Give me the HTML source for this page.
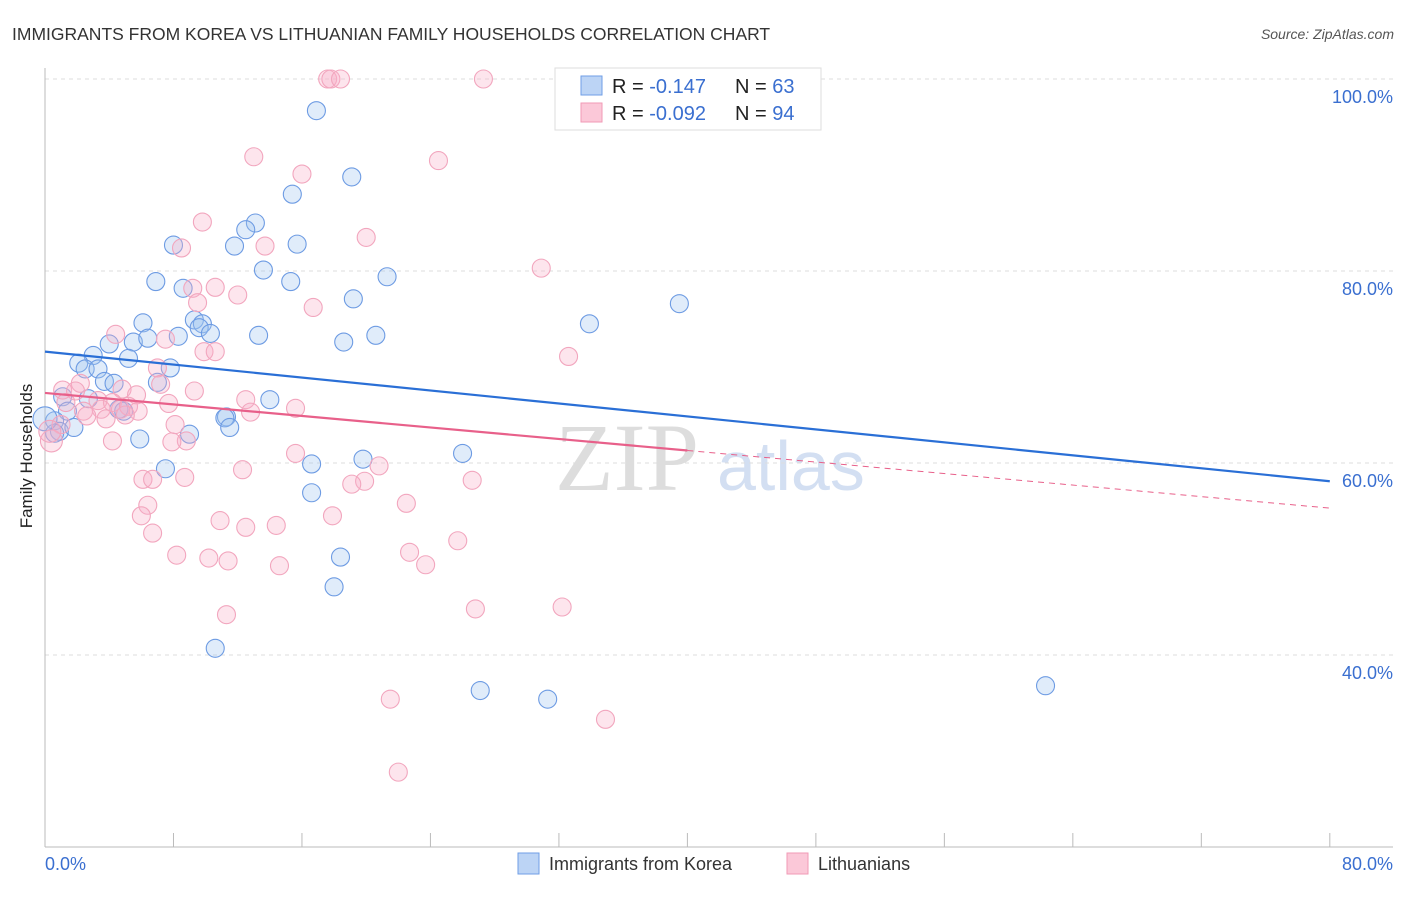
<!DOCTYPE html>
<html><head><meta charset="utf-8"><style>
body{margin:0;background:#fff;font-family:"Liberation Sans",sans-serif}
</style></head><body>
<svg width="1406" height="892" xmlns="http://www.w3.org/2000/svg" font-family="Liberation Sans, sans-serif">
<text x="12" y="40" font-size="17.5" fill="#333">IMMIGRANTS FROM KOREA VS LITHUANIAN FAMILY HOUSEHOLDS CORRELATION CHART</text>
<text x="1394" y="39" font-size="14" fill="#555" font-style="italic" text-anchor="end">Source: ZipAtlas.com</text>
<g><text x="555" y="490" font-size="96" font-family="Liberation Serif, serif" fill="#ddd">ZIP</text><text x="717" y="490" font-size="70" fill="#d3dff2">atlas</text></g>
<g id="grid"></g>
<g id="axes"></g>
<g id="pts"></g>
<g id="lines"></g>
<text x="32" y="456" font-size="17" fill="#222" transform="rotate(-90 32 456)" text-anchor="middle">Family Households</text>
<g>
<rect x="555" y="68" width="266" height="62" fill="#fff" stroke="#ddd"/>
<rect x="581" y="76" width="21" height="19" fill="#bcd4f5" stroke="#6f9ee6"/>
<rect x="581" y="103" width="21" height="19" fill="#fbc8d8" stroke="#f09ab6"/>
<text x="612" y="93" font-size="20" fill="#222">R = <tspan fill="#3a6fd0"> -0.147</tspan><tspan x="735">N = </tspan><tspan fill="#3a6fd0">63</tspan></text>
<text x="612" y="120" font-size="20" fill="#222">R = <tspan fill="#3a6fd0">-0.092</tspan><tspan x="735">N = </tspan><tspan fill="#3a6fd0">94</tspan></text>
</g>
<g>
<rect x="518" y="853" width="21" height="21" fill="#bcd4f5" stroke="#6f9ee6"/>
<text x="549" y="870" font-size="18" fill="#333">Immigrants from Korea</text>
<rect x="787" y="853" width="21" height="21" fill="#fbc8d8" stroke="#f09ab6"/>
<text x="818" y="870" font-size="18" fill="#333">Lithuanians</text>
</g>
</svg>
<script>
const blueX=[39.5,16.9,19.1,15.4,13.1,12.5,8.0,11.8,15.7,13.6,6.9,8.6,15.3,21.3,19.2,39.5,33.9,6.1,9.3,9.8,9.6,10.3,8.3,13.3,20.6,18.6,4.0,5.5,6.4,3.0,5.2,2.1,7.8,2.5,3.3,3.7,4.3,7.0,1.1,2.7,14.0,4.6,4.9,1.4,11.3,11.2,11.5,0.6,0.9,1.8,0.6,9.0,5.9,26.0,19.8,16.6,7.5,16.6,18.4,18.0,10.6,27.1,31.3,62.3,0.0];
const blueY=[100,96.7,89.8,88.0,85.0,84.3,82.7,82.6,82.8,80.1,78.9,78.2,78.9,79.4,77.1,76.6,74.5,74.6,74.9,74.5,74.1,73.5,73.2,73.3,73.3,72.6,72.4,72.6,73.0,71.2,70.9,70.4,69.9,69.8,69.8,68.5,68.3,68.4,66.9,66.7,66.6,65.6,65.4,65.4,64.8,64.7,63.7,64.4,63.3,63.7,63.1,63.0,62.5,61.0,60.4,59.9,59.4,56.9,50.2,47.1,40.7,36.3,35.4,36.8,64.6];
const pinkX=[17.6,17.8,18.4,27.3,13.0,24.5,16.0,9.8,20.0,13.7,8.5,30.9,9.2,10.6,12.0,9.5,16.7,4.4,7.5,9.9,10.6,32.6,7.0,2.2,7.2,1.1,1.9,4.8,9.3,5.7,12.5,1.3,3.3,4.2,7.7,2.4,3.5,4.7,5.2,5.8,15.6,2.6,5.0,12.8,3.8,8.1,1.0,8.8,7.9,4.2,0.4,0.3,15.6,20.8,12.3,6.1,6.7,8.7,19.9,19.1,26.6,6.4,22.5,6.0,17.9,10.9,12.5,14.4,6.7,25.7,8.2,22.7,10.2,11.4,14.6,23.7,26.8,32.2,11.3,21.5,34.9,22.0];
const pinkY=[100,100,100,100,91.9,91.5,90.1,85.1,83.5,82.6,82.4,80.3,78.2,78.3,77.5,76.7,76.2,73.4,72.9,71.6,71.6,71.1,69.9,68.3,68.2,67.6,67.5,67.7,67.5,67.1,66.6,66.3,66.5,66.3,66.2,65.4,65.6,65.6,65.9,65.4,65.7,64.9,65.0,65.3,64.6,64.0,64.0,62.3,62.2,62.3,62.3,63.3,61.0,59.7,59.3,58.3,58.3,58.5,58.1,57.8,58.2,55.6,55.8,54.5,54.5,54.0,53.3,53.5,52.7,51.9,50.4,50.7,50.1,49.8,49.3,49.4,44.8,45.0,44.2,35.4,33.3,27.8];
const yTicks=[40,60,80,100];
const yTickLabels=["40.0%","60.0%","80.0%","100.0%"];
const blueTrend=[71.6,58.1];
const pinkTrend=[67.3,55.3];
const NS="http://www.w3.org/2000/svg";
const sx=v=>45+v*16.06, sy=v=>79+(100-v)*9.6;
function mk(t,a,p){const e=document.createElementNS(NS,t);for(const k in a)e.setAttribute(k,a[k]);p.appendChild(e);return e;}
const grid=document.getElementById('grid'),axes=document.getElementById('axes');
yTicks.forEach((v,i)=>{
 const l=mk('line',{x1:45,x2:1393,y1:sy(v),y2:sy(v),stroke:'#ddd','stroke-dasharray':'4,4'},grid);
 
 
 const t=mk('text',{x:1393,y:sy(v)+24,'font-size':18,fill:'#3a6fd0','text-anchor':'end'},axes);
 t.textContent=yTickLabels[i];
 
 
});
let a=mk('line',{x1:45,x2:45,y1:68,y2:847,stroke:'#bbb'},axes);


a=mk('line',{x1:45,x2:1393,y1:847,y2:847,stroke:'#bbb'},axes);


for(let i=0;i<=10;i++){const tk=mk('line',{x1:sx(i*8),x2:sx(i*8),y1:833,y2:847,stroke:'#bbb'},axes);
 
 }
let t=mk('text',{x:45,y:870,'font-size':18,fill:'#3a6fd0'},axes);t.textContent='0.0%';


t=mk('text',{x:1393,y:870,'font-size':18,fill:'#3a6fd0','text-anchor':'end'},axes);t.textContent='80.0%';


const pts=document.getElementById('pts');
blueX.forEach((x,i)=>{const c=mk('circle',{cx:sx(x),cy:sy(blueY[i]),r:x===0?12:9,fill:'rgba(160,195,240,0.32)',stroke:'#6d9be3','stroke-width':1.1},pts);
 
 });
pinkX.forEach((x,i)=>{const c=mk('circle',{cx:sx(x),cy:sy(pinkY[i]),r:x<0.5?11:9,fill:'rgba(248,175,198,0.32)',stroke:'#f2a6be','stroke-width':1.1},pts);
 
 });
const lines=document.getElementById('lines');
let ln=mk('line',{x1:sx(0),y1:sy(blueTrend[0]),x2:sx(80),y2:sy(blueTrend[1]),stroke:'#2a6fd6','stroke-width':2.2},lines);


const pm=pinkTrend[0]+(pinkTrend[1]-pinkTrend[0])*0.5;
ln=mk('line',{x1:sx(0),y1:sy(pinkTrend[0]),x2:sx(40),y2:sy(pm),stroke:'#e8608a','stroke-width':2.2},lines);


ln=mk('line',{x1:sx(40),y1:sy(pm),x2:sx(80),y2:sy(pinkTrend[1]),stroke:'#e8608a','stroke-width':1,'stroke-dasharray':'6,5'},lines);


</script>
</body></html>
